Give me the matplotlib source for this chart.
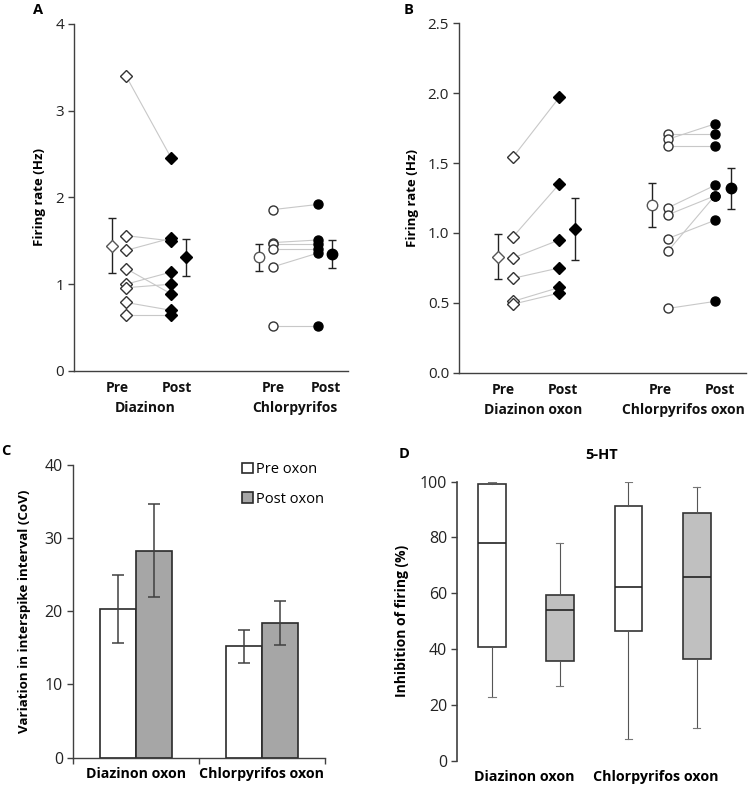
import matplotlib
matplotlib.use("Agg")
import matplotlib.pyplot as plt
from matplotlib.patches import Patch

plt.rcParams['font.family'] = ['Open Sans', 'DejaVu Sans']

# ---------------- data ----------------
# Panel A (Hz)
diaz_pre = [3.40, 1.56, 1.39, 1.18, 1.00, 0.96, 0.79, 0.65]
diaz_post = [2.46, 1.50, 1.53, 0.89, 1.14, 1.00, 0.70, 0.65]
diaz_mean = [1.44, 1.31]
diaz_err_lo = [0.31, 0.21]
diaz_err_hi = [0.32, 0.21]
chl_pre = [1.86, 1.48, 1.46, 1.41, 1.20, 0.52]
chl_post = [1.92, 1.51, 1.46, 1.41, 1.36, 0.52]
chl_mean = [1.31, 1.35]
chl_err = [0.155, 0.16]

# Panel B (Hz)
dox_pre = [1.54, 0.97, 0.82, 0.675, 0.51, 0.49]
dox_post = [1.97, 1.35, 0.95, 0.75, 0.61, 0.57]
dox_mean = [0.83, 1.03]
dox_err = [0.16, 0.22]
cox_pre = [1.71, 1.67, 1.625, 1.18, 1.13, 0.96, 0.87, 0.46]
cox_post = [1.71, 1.78, 1.625, 1.34, 1.265, 1.09, 1.265, 0.51]
cox_mean = [1.20, 1.32]
cox_err = [0.155, 0.145]

# Panel C (CoV)
c_groups = ["Diazinon oxon", "Chlorpyrifos oxon"]
c_pre = [20.3, 15.2]
c_pre_err = [4.6, 2.2]
c_post = [28.3, 18.4]
c_post_err = [6.4, 3.0]

# Panel D (% inhibition): whislo, q1, med, q3, whishi
d_labels = ["Diazinon oxon", "Chlorpyrifos oxon"]
d_whislo = [22.9, 26.9, 7.8, 11.8]
d_q1 = [40.6, 35.6, 46.5, 36.4]
d_med = [78.1, 53.9, 62.4, 65.8]
d_q3 = [99.3, 59.5, 91.2, 88.8]
d_whishi = [100.0, 77.9, 100.0, 98.0]

AX = '#404040'
LINE = '#c8c8c8'

fig = plt.figure(figsize=(7.54, 7.88), dpi=100)


def style_axes(ax):
    for s in ['top', 'right']:
        ax.spines[s].set_visible(False)
    for s in ['left', 'bottom']:
        ax.spines[s].set_color(AX)
        ax.spines[s].set_linewidth(1.0)
    ax.tick_params(axis='y', direction='out', length=4, width=1.0, color=AX,
                   labelsize=11, labelcolor='#222222', pad=3)
    ax.tick_params(axis='x', length=0)


def paired(ax, pre, post, means, err_lo, err_hi, pos, marker, ms, mean_ms, pre_edge):
    # pos: pre mean, pre pts, post pts, post mean
    for a, b in zip(pre, post):
        ax.plot([pos[1], pos[2]], [a, b], color=LINE, lw=0.8, zorder=1)
    ax.plot([pos[1]] * len(pre), pre, ls='none', marker=marker, ms=ms,
            mfc='white', mec=pre_edge, mew=1.0, zorder=3)
    ax.plot([pos[2]] * len(post), post, ls='none', marker=marker, ms=ms,
            mfc='black', mec='black', mew=1.0, zorder=3)
    ax.errorbar([pos[0]], [means[0]], yerr=[[err_lo[0]], [err_hi[0]]], fmt=marker,
                ms=mean_ms, mfc='white', mec='#555555', mew=1.0, ecolor='#222222',
                elinewidth=1.0, capsize=3, capthick=1.0, zorder=3)
    ax.errorbar([pos[3]], [means[1]], yerr=[[err_lo[1]], [err_hi[1]]], fmt=marker,
                ms=mean_ms, mfc='black', mec='black', mew=1.0, ecolor='#222222',
                elinewidth=1.0, capsize=3, capthick=1.0, zorder=3)


def xlabels(ax, pp_pos, grp_pos, grp_names):
    for x, t in zip(pp_pos, ['Pre', 'Post', 'Pre', 'Post']):
        ax.text(x, -0.05, t, transform=ax.get_xaxis_transform(), ha='center',
                va='center', fontsize=10, fontweight='bold', color='#111111')
    for x, t in zip(grp_pos, grp_names):
        ax.text(x, -0.108, t, transform=ax.get_xaxis_transform(), ha='center',
                va='center', fontsize=10, fontweight='bold', color='#111111')


# ---------------- Panel A ----------------
axA = fig.add_axes([0.0981, 0.5292, 0.3634, 0.4404])
style_axes(axA)
axA.set_xlim(0, 1)
axA.set_ylim(0, 4)
axA.set_yticks([0, 1, 2, 3, 4])
axA.set_xticks([])
paired(axA, diaz_pre, diaz_post, diaz_mean, diaz_err_lo, diaz_err_hi,
       [0.139, 0.190, 0.354, 0.409], 'D', 6, 6.5, '#333333')
paired(axA, chl_pre, chl_post, chl_mean, chl_err, chl_err,
       [0.675, 0.726, 0.891, 0.942], 'o', 6.5, 7.5, '#333333')
axA.set_ylabel('Firing rate (Hz)', fontsize=9.5, fontweight='bold', labelpad=7)
xlabels(axA, [0.157, 0.374, 0.726, 0.920], [0.259, 0.807], ['Diazinon', 'Chlorpyrifos'])
fig.text(38 / 754, 1 - 10 / 788, 'A', fontsize=10.5, fontweight='bold', ha='center', va='center')

# ---------------- Panel B ----------------
axB = fig.add_axes([0.6084, 0.527, 0.381, 0.4434])
style_axes(axB)
axB.set_xlim(0, 1)
axB.set_ylim(0, 2.5)
axB.set_yticks([0, 0.5, 1.0, 1.5, 2.0, 2.5])
axB.set_yticklabels([f'{v:.1f}' for v in [0, 0.5, 1.0, 1.5, 2.0, 2.5]])
axB.set_xticks([])
paired(axB, dox_pre, dox_post, dox_mean, dox_err, dox_err,
       [0.1357, 0.188, 0.350, 0.405], 'D', 6, 6.5, '#333333')
paired(axB, cox_pre, cox_post, cox_mean, cox_err, cox_err,
       [0.674, 0.728, 0.891, 0.948], 'o', 6.5, 7.5, '#333333')
axB.set_ylabel('Firing rate (Hz)', fontsize=9.5, fontweight='bold', labelpad=6)
xlabels(axB, [0.156, 0.364, 0.703, 0.910], [0.260, 0.782], ['Diazinon oxon', 'Chlorpyrifos oxon'])
fig.text(409 / 754, 1 - 10 / 788, 'B', fontsize=10.5, fontweight='bold', ha='center', va='center')

# ---------------- Panel C ----------------
axC = fig.add_axes([0.0964, 0.0385, 0.3346, 0.3714])
for s in ['top', 'right']:
    axC.spines[s].set_visible(False)
for s in ['left', 'bottom']:
    axC.spines[s].set_color(AX)
    axC.spines[s].set_linewidth(1.0)
xs = list(range(len(c_groups)))
bw = 0.286
axC.bar([x - bw / 2 for x in xs], c_pre, width=bw, color='white', edgecolor='#2a2a2a',
        linewidth=1.2, yerr=c_pre_err, error_kw=dict(ecolor='#404040', elinewidth=1.1,
                                                     capsize=4, capthick=1.1), zorder=2)
axC.bar([x + bw / 2 for x in xs], c_post, width=bw, color='#a6a6a6', edgecolor='#2a2a2a',
        linewidth=1.2, yerr=c_post_err, error_kw=dict(ecolor='#404040', elinewidth=1.1,
                                                      capsize=4, capthick=1.1), zorder=2)
axC.set_xlim(-0.5, 1.5)
axC.set_ylim(0, 40)
axC.set_yticks([0, 10, 20, 30, 40])
axC.set_xticks([-0.5, 0.5, 1.5], minor=False)
axC.set_xticklabels([])
axC.tick_params(axis='x', direction='out', length=4, width=1.0, color=AX)
axC.set_xticks(xs, minor=True)
axC.set_xticklabels(c_groups, minor=True)
axC.tick_params(axis='x', which='minor', length=0, pad=7, labelsize=10.2)
for t in axC.get_xticklabels(minor=True):
    t.set_fontweight('bold')
axC.tick_params(axis='y', direction='out', length=4, width=1.0, color=AX,
                labelsize=11.5, labelcolor='#222222', pad=3)
axC.set_ylabel('Variation in interspike interval (CoV)', fontsize=9.6,
               fontweight='bold', labelpad=10)
handles = [Patch(facecolor='white', edgecolor='#2a2a2a', linewidth=1.2, label='Pre oxon'),
           Patch(facecolor='#a6a6a6', edgecolor='#2a2a2a', linewidth=1.2, label='Post oxon')]
axC.legend(handles=handles, loc='upper left', bbox_to_anchor=(0.62, 1.055), frameon=False,
           fontsize=10.5, handlelength=0.75, handleheight=0.75, handletextpad=0.2,
           labelspacing=1.0)
fig.text(6 / 754, 1 - 451 / 788, 'C', fontsize=10.5, fontweight='bold', ha='center', va='center')

# ---------------- Panel D ----------------
axD = fig.add_axes([0.6061, 0.0347, 0.3833, 0.354])
for s in ['top', 'right', 'bottom']:
    axD.spines[s].set_visible(False)
axD.spines['left'].set_color(AX)
axD.spines['left'].set_linewidth(1.2)
stats = []
for i in range(4):
    stats.append(dict(whislo=d_whislo[i], q1=d_q1[i], med=d_med[i], q3=d_q3[i],
                      whishi=d_whishi[i], fliers=[]))
bp = axD.bxp(stats, positions=[0.121, 0.356, 0.593, 0.830], widths=0.096,
             patch_artist=True, showfliers=False,
             boxprops=dict(edgecolor='#333333', linewidth=1.2),
             medianprops=dict(color='#222222', linewidth=1.2),
             whiskerprops=dict(color='#555555', linewidth=0.8),
             capprops=dict(color='#777777', linewidth=0.8), capwidths=0.025,
             manage_ticks=False)
for i, b in enumerate(bp['boxes']):
    b.set_facecolor('white' if i % 2 == 0 else '#c0c0c0')
axD.set_xlim(0, 1)
axD.set_ylim(0, 100)
axD.set_yticks([0, 20, 40, 60, 80, 100])
axD.set_xticks([0.231, 0.689])
axD.set_xticklabels(d_labels, fontweight='bold', fontsize=10.3)
axD.tick_params(axis='x', length=0, pad=7)
axD.tick_params(axis='y', direction='out', length=4, width=1.0, color=AX,
                labelsize=11.5, labelcolor='#222222', pad=3)
axD.set_ylabel('Inhibition of firing (%)', fontsize=10, fontweight='bold', labelpad=8)
axD.set_title('5-HT', fontsize=10.5, fontweight='bold', pad=16)
fig.text(404 / 754, 1 - 454 / 788, 'D', fontsize=10.5, fontweight='bold', ha='center', va='center')

fig.savefig('out.png', dpi=100)
